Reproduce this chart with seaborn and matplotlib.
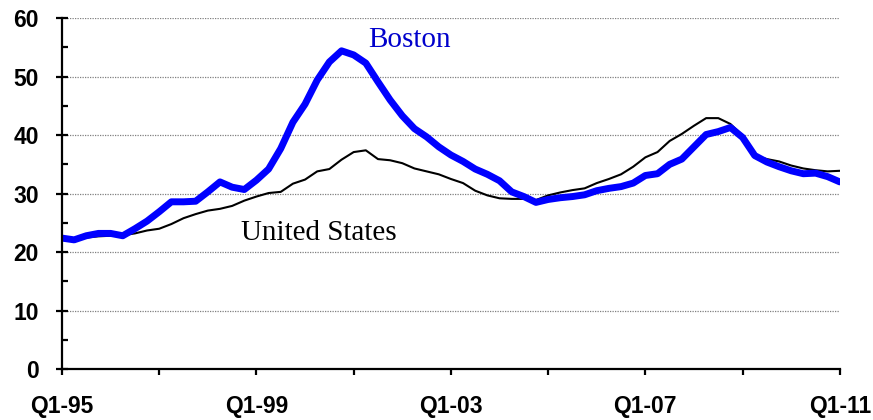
import matplotlib
matplotlib.use("Agg")
import matplotlib.pyplot as plt
from matplotlib.ticker import FixedLocator, MultipleLocator
import seaborn as sns
import pandas as pd

boston = [22.4, 22.1, 22.8, 23.2, 23.2, 22.8, 24.0, 25.3, 26.9, 28.6,
          28.6, 28.7, 30.3, 32.0, 31.1, 30.7, 32.3, 34.2, 37.7, 42.2,
          45.3, 49.4, 52.5, 54.4, 53.7, 52.3, 49.1, 46.0, 43.3, 41.1,
          39.7, 38.0, 36.6, 35.5, 34.2, 33.3, 32.2, 30.3, 29.5, 28.5,
          29.0, 29.3, 29.5, 29.8, 30.5, 30.9, 31.2, 31.8, 33.1, 33.4,
          35.0, 35.9, 38.0, 40.1, 40.6, 41.3, 39.6, 36.5, 35.4, 34.6,
          33.9, 33.4, 33.5, 32.9, 32.0]
united_states = [22.3, 22.2, 22.5, 22.7, 22.8, 22.9, 23.2, 23.7, 24.0, 24.8,
                 25.8, 26.5, 27.1, 27.4, 27.9, 28.8, 29.5, 30.1, 30.3, 31.7,
                 32.4, 33.8, 34.2, 35.8, 37.1, 37.4, 35.9, 35.7, 35.2, 34.3,
                 33.8, 33.3, 32.5, 31.8, 30.5, 29.7, 29.2, 29.1, 29.1, 28.9,
                 29.7, 30.2, 30.6, 30.9, 31.8, 32.5, 33.3, 34.6, 36.2, 37.1,
                 39.0, 40.2, 41.6, 42.9, 42.9, 41.9, 39.9, 36.5, 35.9, 35.5,
                 34.8, 34.3, 34.0, 33.8, 33.9]
quarters = list(range(len(boston)))
tick_labels = ["Q1-95", "Q1-99", "Q1-03", "Q1-07", "Q1-11"]
label_quarters = [0, 16, 32, 48, 64]
series_names = ["Boston", "United States"]

df = pd.DataFrame({"q": quarters * 2,
                   "value": boston + united_states,
                   "series": [series_names[0]] * len(boston) + [series_names[1]] * len(united_states)})

sns.set_style("white")
fig = plt.figure(figsize=(8.73, 4.2), dpi=100)
ax = fig.add_axes([0.071, 0.121, 0.891, 0.836])

sns.lineplot(data=df[df.series == "United States"], x="q", y="value", ax=ax,
             color="black", linewidth=1.5, legend=False)
sns.lineplot(data=df[df.series == "Boston"], x="q", y="value", ax=ax,
             color="#0000FF", linewidth=5, legend=False)

ax.set_xlim(0, 64)
ax.set_ylim(0, 60)
ax.set_xlabel("")
ax.set_ylabel("")

ax.yaxis.set_major_locator(MultipleLocator(10))
ax.yaxis.set_minor_locator(MultipleLocator(5))
ax.xaxis.set_major_locator(FixedLocator(label_quarters))
ax.xaxis.set_minor_locator(FixedLocator([8, 24, 40, 56]))
ax.set_xticklabels(tick_labels)

for lab in ax.get_xticklabels() + ax.get_yticklabels():
    lab.set_fontfamily("Liberation Sans")
    lab.set_fontweight("bold")
    lab.set_fontsize(16.5)
    lab.set_color("black")

ax.tick_params(axis="y", which="major", direction="inout", length=9, width=1.6,
               pad=12, left=True, color="black")
ax.tick_params(axis="y", which="minor", direction="in", length=4.5, width=1.6,
               left=True, color="black")
ax.tick_params(axis="x", which="both", direction="out", length=4.5, width=1.6,
               pad=14, bottom=True, color="black")

for s in ["top", "right"]:
    ax.spines[s].set_visible(False)
for s in ["left", "bottom"]:
    ax.spines[s].set_color("black")
    ax.spines[s].set_linewidth(1.6)

ax.yaxis.grid(True, which="major", color="#808080", linestyle=(0, (1, 1)), linewidth=0.9)
ax.set_axisbelow(True)

ax.text(28.6, 55.0, "Boston", color="#0000CC", fontsize=21,
        family="Liberation Serif", ha="center", va="baseline")
ax.text(21.1, 22.1, "United States", color="black", fontsize=21,
        family="Liberation Serif", ha="center", va="baseline")

fig.savefig("out.png", dpi=100)
